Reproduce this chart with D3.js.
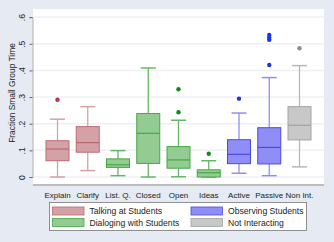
<!DOCTYPE html>
<html>
<head>
<meta charset="utf-8">
<script src="https://cdn.jsdelivr.net/npm/d3@7"></script>
<style>
  body { margin: 0; background: #e6eaf2; }
  svg { display: block; font-family: "Liberation Sans", Arial, sans-serif; }
</style>
</head>
<body>
<div id="chart"></div>
<script>
// categories and their group
let categories = ["Explain", "Clarify", "List. Q.", "Closed", "Open", "Ideas", "Active", "Passive", "Non Int."];
let groups = ["talk", "talk", "dialog", "dialog", "dialog", "dialog", "observe", "observe", "none"];

// box stats
let whiskerLow  = [0.000, 0.024, 0.005, 0.000, 0.001, 0.000, 0.014, 0.005, 0.038];
let boxLow      = [0.061, 0.093, 0.036, 0.051, 0.033, 0.000, 0.050, 0.049, 0.139];
let medians     = [0.105, 0.129, 0.046, 0.164, 0.064, 0.016, 0.085, 0.111, 0.194];
let boxHigh     = [0.136, 0.189, 0.068, 0.238, 0.114, 0.027, 0.140, 0.185, 0.264];
let whiskerHigh = [0.217, 0.264, 0.099, 0.409, 0.213, 0.061, 0.240, 0.373, 0.418];
let outliers    = [[0.290], [], [], [], [0.243, 0.329], [0.087], [0.294], [0.420, 0.515, 0.523, 0.533], [0.483]];

let yTicks = [0, 0.1, 0.2, 0.3, 0.4, 0.5, 0.6];
let yTickLabels = ["0", ".1", ".2", ".3", ".4", ".5", ".6"];

let legendKeys = ["talk", "observe", "dialog", "none"];
let legendLabels = ["Talking at Students", "Observing Students", "Dialoging with Students", "Not Interacting"];

let fills   = { talk: "#d4a2a6", dialog: "#93cb93", observe: "#8e8ef6", none: "#c8c8c8" };
let strokes = { talk: "#bb6a70", dialog: "#45a845", observe: "#4a4ae6", none: "#a2a2a2" };
let whisk   = { talk: "#d4a2a6", dialog: "#62b862", observe: "#8e8ef6", none: "#b8b8b8" };
let dots    = { talk: "#b03a48", dialog: "#0e8c1a", observe: "#1636ee", none: "#8e8e8e" };

let width = 334, height = 242;
let plot = { left: 33, right: 324, top: 9, bottom: 185 };

let svg = d3.select("#chart").append("svg")
    .attr("width", width)
    .attr("height", height);

svg.append("rect")
    .attr("width", width).attr("height", height)
    .attr("fill", "#e6eaf2");

svg.append("rect")
    .attr("x", plot.left).attr("y", plot.top)
    .attr("width", plot.right - plot.left)
    .attr("height", plot.bottom - plot.top)
    .attr("fill", "#ffffff");

let x = d3.scalePoint().domain(categories).range([plot.left, plot.right]).padding(0.81);
let y = d3.scaleLinear().domain([0, 0.6]).range([177, 17.1]);

// gridlines
svg.append("g").selectAll("line")
    .data(yTicks)
    .join("line")
    .attr("x1", plot.left).attr("x2", plot.right)
    .attr("y1", d => y(d)).attr("y2", d => y(d))
    .attr("stroke", "#eef0f6").attr("stroke-width", 1.5);

// y axis
let yAxis = d3.axisLeft(y).tickValues(yTicks)
    .tickFormat((d, i) => yTickLabels[i]).tickSize(3).tickPadding(3);
let ya = svg.append("g").attr("transform", "translate(" + (plot.left - 0.5) + ",0)").call(yAxis);
ya.select(".domain").attr("stroke", "#b0b0b0");
ya.selectAll(".tick line").attr("stroke", "#666");
ya.selectAll(".tick text")
    .attr("font-size", 8.6).attr("fill", "#222")
    .attr("transform", "rotate(-90)")
    .attr("x", 0).attr("y", -8)
    .attr("text-anchor", "middle")
    .attr("dy", 0);

svg.append("text")
    .attr("transform", "translate(15," + 93 + ") rotate(-90)")
    .attr("text-anchor", "middle")
    .attr("font-size", 8.4).attr("fill", "#222")
    .text("Fraction Small Group Time");

// bottom axis line
svg.append("line")
    .attr("x1", plot.left).attr("x2", plot.right)
    .attr("y1", plot.bottom).attr("y2", plot.bottom)
    .attr("stroke", "#bcbcbc").attr("stroke-width", 2);

// x labels
svg.append("g").selectAll("text")
    .data(categories)
    .join("text")
    .attr("x", d => x(d)).attr("y", 197.5)
    .attr("text-anchor", "middle")
    .attr("font-size", 8).attr("fill", "#222")
    .text(d => d);

let boxW = 23, capW = 15;

let boxes = svg.append("g").selectAll("g")
    .data(categories)
    .join("g");

boxes.append("line")
    .attr("x1", d => x(d)).attr("x2", d => x(d))
    .attr("y1", (d, i) => y(whiskerLow[i])).attr("y2", (d, i) => y(boxLow[i]))
    .attr("stroke", (d, i) => whisk[groups[i]]).attr("stroke-width", 1.3);
boxes.append("line")
    .attr("x1", d => x(d)).attr("x2", d => x(d))
    .attr("y1", (d, i) => y(whiskerHigh[i])).attr("y2", (d, i) => y(boxHigh[i]))
    .attr("stroke", (d, i) => whisk[groups[i]]).attr("stroke-width", 1.3);
boxes.append("line")
    .attr("x1", d => x(d) - capW / 2).attr("x2", d => x(d) + capW / 2)
    .attr("y1", (d, i) => y(whiskerLow[i])).attr("y2", (d, i) => y(whiskerLow[i]))
    .attr("stroke", (d, i) => whisk[groups[i]]).attr("stroke-width", 1.5);
boxes.append("line")
    .attr("x1", d => x(d) - capW / 2).attr("x2", d => x(d) + capW / 2)
    .attr("y1", (d, i) => y(whiskerHigh[i])).attr("y2", (d, i) => y(whiskerHigh[i]))
    .attr("stroke", (d, i) => whisk[groups[i]]).attr("stroke-width", 1.5);

boxes.append("rect")
    .attr("x", d => x(d) - boxW / 2)
    .attr("y", (d, i) => y(boxHigh[i]))
    .attr("width", boxW)
    .attr("height", (d, i) => y(boxLow[i]) - y(boxHigh[i]))
    .attr("fill", (d, i) => fills[groups[i]])
    .attr("stroke", (d, i) => strokes[groups[i]]).attr("stroke-width", 1);

boxes.append("line")
    .attr("x1", d => x(d) - boxW / 2).attr("x2", d => x(d) + boxW / 2)
    .attr("y1", (d, i) => y(medians[i])).attr("y2", (d, i) => y(medians[i]))
    .attr("stroke", (d, i) => strokes[groups[i]]).attr("stroke-width", 1.2);

boxes.each(function (d, i) {
    d3.select(this).selectAll("circle")
        .data(outliers[i])
        .join("circle")
        .attr("cx", x(d)).attr("cy", v => y(v))
        .attr("r", 2.2)
        .attr("fill", dots[groups[i]]);
});

// legend
let lg = svg.append("g");
lg.append("rect")
    .attr("x", 49.5).attr("y", 202.5).attr("width", 257).attr("height", 28)
    .attr("fill", "#ffffff").attr("stroke", "#777").attr("stroke-width", 0.8);

let legendX = [52.5, 191], legendY = [207, 218.5];
legendKeys.forEach((k, i) => {
    let cx = legendX[i % 2], cy = legendY[Math.floor(i / 2)];
    lg.append("rect")
        .attr("x", cx).attr("y", cy).attr("width", 31.5).attr("height", 8)
        .attr("fill", fills[k]).attr("stroke", strokes[k]).attr("stroke-width", 0.8);
    lg.append("text")
        .attr("x", cx + 37).attr("y", cy + 7.3)
        .attr("font-size", 8.6).attr("fill", "#222")
        .text(legendLabels[i]);
});
</script>
</body>
</html>
